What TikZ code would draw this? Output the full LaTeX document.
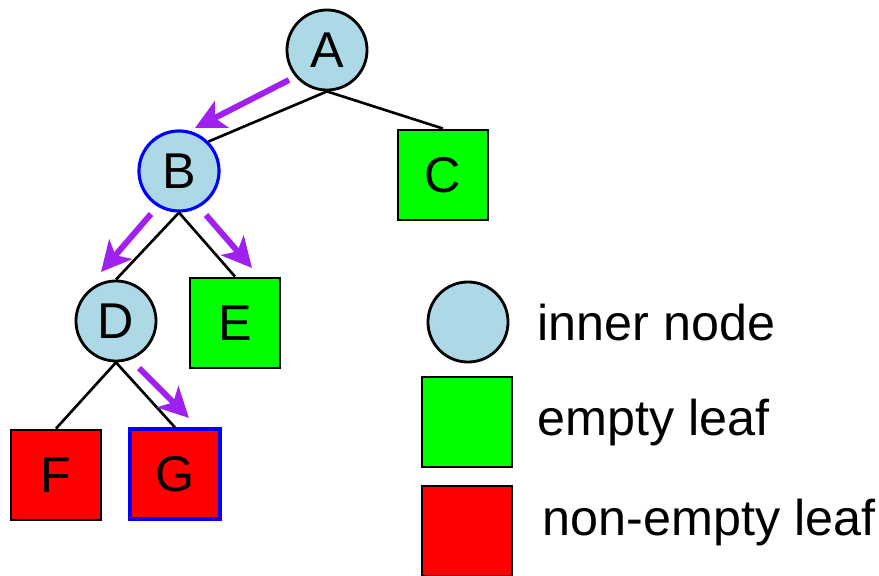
\documentclass[tikz,border=0pt]{standalone}
\usepackage{fontspec}
\setmainfont{Liberation Sans}
\usetikzlibrary{arrows.meta}
\definecolor{innerblue}{RGB}{173,216,230}
\definecolor{emptygreen}{RGB}{0,255,0}
\definecolor{fullred}{RGB}{255,0,0}
\definecolor{walkpurple}{RGB}{160,32,240}
\tikzset{
  inner/.style={circle, draw, line width=0.8pt, fill=innerblue, minimum size=0.8cm, inner sep=0pt},
  leaf/.style={rectangle, draw, line width=0.8pt, minimum size=0.9cm, inner sep=0pt},
  empty/.style={leaf, fill=emptygreen},
  full/.style={leaf, fill=fullred},
  visited/.style={draw=blue, line width=0.9pt},
  edge/.style={line width=0.75pt},
  walk/.style={walkpurple, line width=1.7pt, -{Stealth[length=8.5pt, width=8.5pt, inset=2.2pt]}}
}
\begin{document}
\begin{tikzpicture}[x=0.01cm, y=-0.01cm, font=\fontsize{14.3}{17}\selectfont]
\useasboundingbox (0,0) rectangle (879,576);
% tree
\node[inner] (A) at (327,50) {A};
\node[inner, visited] (B) at (179,171) {B};
\node[empty] (C) at (443,175) {C};
\node[inner] (D) at (116,321) {D};
\node[empty] (E) at (235,323) {E};
\node[full] (F) at (56,475) {F};
\node[full, visited] (G) at (175,474) {G};
\draw[edge] (A.south) -- (B.45);
\draw[edge] (A.south) -- (C.north);
\draw[edge] (B.south) -- (D.north);
\draw[edge] (B.south) -- (E.north);
\draw[edge] (D.south) -- (F.north);
\draw[edge] (D.south) -- (G.north);
% search path
\coordinate (pA) at (289,80);
\coordinate (pB) at (195,128);
\coordinate (pBl) at (151,214);
\coordinate (pD) at (101,272);
\coordinate (pBr) at (206,215);
\coordinate (pE) at (252,268);
\coordinate (pDr) at (139,368);
\coordinate (pG) at (189,418);
\draw[walk] (pA) -- (pB);
\draw[walk] (pBl) -- (pD);
\draw[walk] (pBr) -- (pE);
\draw[walk] (pDr) -- (pG);
% legend
\node[inner] (keyinner) at (468,322) {};
\node[empty] (keyempty) at (467,422) {};
\node[full] (keyfull) at (467,531) {};
\node[anchor=base west, inner sep=0pt] (txtinner) at (537,340) {inner node};
\node[anchor=base west, inner sep=0pt] (txtempty) at (537,435) {empty leaf};
\node[anchor=base west, inner sep=0pt] (txtfull) at (542,535) {non-empty leaf};
\end{tikzpicture}
\end{document}
